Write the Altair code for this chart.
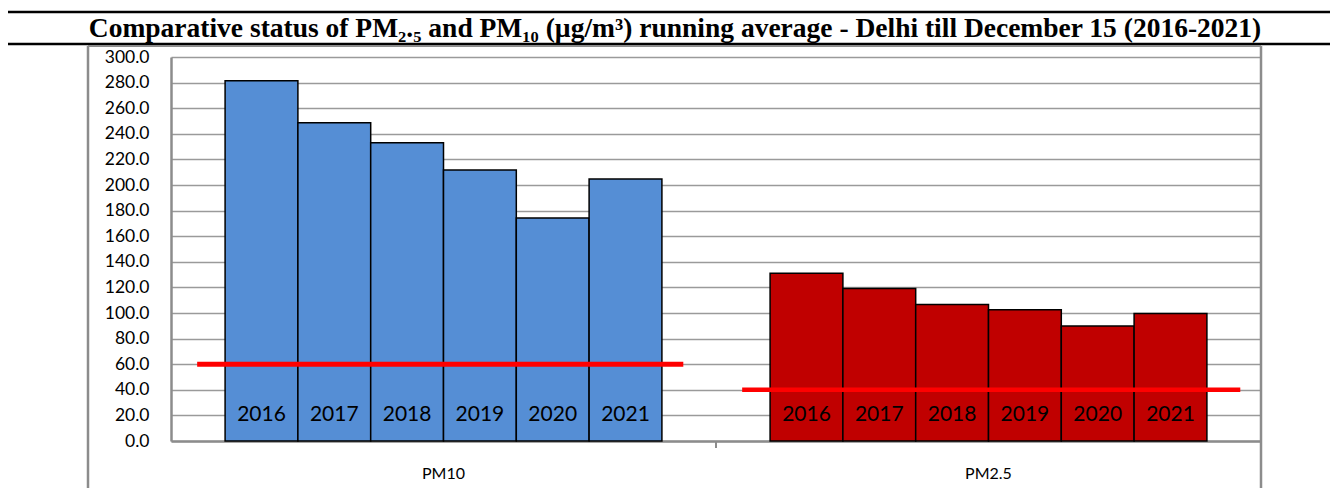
import altair as alt
import pandas as pd

# ---- data ----
years = ["2016", "2017", "2018", "2019", "2020", "2021"]
pm10_values = [281.4, 248.6, 233.0, 211.8, 174.2, 204.6]
pm25_values = [131.0, 119.2, 106.7, 102.5, 89.8, 99.7]
pollutants = ["PM10", "PM2.5"]
standard_limits = [60, 40]
bar_colors = ["#558ED5", "#C00000"]
y_ticks = [0, 20, 40, 60, 80, 100, 120, 140, 160, 180, 200, 220, 240, 260, 280, 300]
title_text = "Comparative status of PM\u2082.\u2085 and PM\u2081\u2080 (\u00b5g/m\u00b3) running average - Delhi till December 15 (2016-2021)"

rows = []
for p, vals in zip(pollutants, [pm10_values, pm25_values]):
    for yr, v in zip(years, vals):
        rows.append({"pollutant": p, "year": yr, "value": v})
df = pd.DataFrame(rows)
std_df = pd.DataFrame({"pollutant": pollutants, "limit": standard_limits})
one = pd.DataFrame({"t": [title_text]})

GRID = "#9a9a9a"
AXIS = "#8c8c8c"

x_scale = alt.Scale(domain=pollutants, paddingInner=0, paddingOuter=0)
x_axis = alt.Axis(title=None, labelAngle=0, ticks=False, grid=False,
                  domainColor=AXIS, domainWidth=2.5,
                  labelFont="Lato", labelFontSize=16, labelColor="#000000",
                  labelPadding=24)
xoff_enc = alt.XOffset("year:N", sort=years,
                       scale=alt.Scale(paddingInner=0, paddingOuter=0.743))
y_scale = alt.Scale(domain=[0, 300], nice=False, zero=True)
y_axis = alt.Axis(title=None, values=y_ticks, format=".1f", grid=True,
                  gridColor=GRID, gridWidth=1.5, ticks=False,
                  domainColor=AXIS, domainWidth=2.5, labelOverlap=False,
                  labelFont="Lato", labelFontSize=17.5, labelColor="#000000",
                  labelPadding=22)


def xpos(band=None):
    if band is None:
        return alt.X("pollutant:N", sort=pollutants, scale=x_scale, axis=x_axis)
    return alt.X("pollutant:N", sort=pollutants, scale=x_scale, axis=x_axis, bandPosition=band)


bars = alt.Chart(df).mark_bar(stroke="black", strokeWidth=1.5).encode(
    x=xpos(),
    xOffset=xoff_enc,
    y=alt.Y("value:Q", scale=y_scale, axis=y_axis),
    color=alt.Color("pollutant:N", scale=alt.Scale(domain=pollutants, range=bar_colors), legend=None),
)

year_labels = alt.Chart(df).transform_calculate(label_y="20").mark_text(
    font="Lato", fontSize=21, color="black", baseline="middle").encode(
    x=xpos(),
    xOffset=xoff_enc,
    y=alt.Y("label_y:Q", scale=y_scale, axis=y_axis),
    text="year:N",
)

rule10 = alt.Chart(std_df).transform_filter(alt.datum.pollutant == "PM10").mark_rule(
    color="#FF0000", strokeWidth=5).encode(
    x=xpos(0.048),
    x2=alt.X2("pollutant:N", bandPosition=0.94),
    y=alt.Y("limit:Q", scale=y_scale, axis=y_axis),
)
rule25 = alt.Chart(std_df).transform_filter(alt.datum.pollutant == "PM2.5").mark_rule(
    color="#FF0000", strokeWidth=4.5).encode(
    x=xpos(0.048),
    x2=alt.X2("pollutant:N", bandPosition=0.962),
    y=alt.Y("limit:Q", scale=y_scale, axis=y_axis),
)
sep_tick = alt.Chart(std_df).transform_filter(alt.datum.pollutant == "PM2.5").mark_rule(
    color=AXIS, strokeWidth=2).encode(
    x=xpos(0),
    y=alt.value(385), y2=alt.value(391),
)


def hline(x1, x2, y, color, w):
    return alt.Chart(one).mark_rule(color=color, strokeWidth=w).encode(
        x=alt.value(x1), x2=alt.value(x2), y=alt.value(y))


def vline(x, y1, y2, color, w):
    return alt.Chart(one).mark_rule(color=color, strokeWidth=w).encode(
        x=alt.value(x), y=alt.value(y1), y2=alt.value(y2))


frame = [
    hline(-163, 1170, -45, "black", 2.5),
    hline(-163, 1170, -13, "black", 2.5),
    hline(-83, 1090, -11, AXIS, 2),
    vline(-83, -11, 440, AXIS, 2.5),
    vline(1090, -11, 440, AXIS, 2.5),
]

title = alt.Chart(one).mark_text(font="Liberation Serif", fontWeight="bold", fontSize=27.5,
                                 align="center", baseline="alphabetic", color="black").encode(
    x=alt.value(504), y=alt.value(-20), text="t:N")

chart = alt.layer(bars, rule10, rule25, year_labels, sep_tick, title, *frame).properties(
    width=1090, height=384,
    autosize=alt.AutoSizeParams(type="none"),
    padding={"left": 163, "top": 49, "right": 69, "bottom": 47},
).configure_view(strokeWidth=0)

chart.save("out.html", embed_options={"renderer": "svg", "actions": False})
